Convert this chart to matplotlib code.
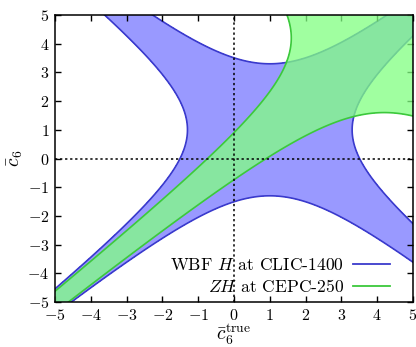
import matplotlib
matplotlib.use('Agg')
import matplotlib.pyplot as plt
import numpy as np

# Allowed regions: |(cbar - c)(cbar + c - s0)| < k
# s0 = crossing of the two zero lines, k = (half gap)^2
labels = ['WBF $H$ at CLIC-1400', '$ZH$ at CEPC-250']
cross_sum = [2.0, 8.4]
half_gap = [2.3, 2.6]
fill_colors = ['#9999ff', '#82ff82']
fill_alpha = [1.0, 0.76]
edge_colors = ['#3a3acc', '#3cc83c']
ticks = [-5, -4, -3, -2, -1, 0, 1, 2, 3, 4, 5]

plt.rcParams['font.family'] = 'serif'
plt.rcParams['font.serif'] = ['cmr10']
plt.rcParams['mathtext.fontset'] = 'cm'
plt.rcParams['axes.formatter.use_mathtext'] = True
plt.rcParams['font.size'] = 11.5

fig = plt.figure(figsize=(4.16, 3.47), dpi=100)
ax = fig.add_axes([55 / 416, 45 / 347, 358 / 416, 287 / 347])

grid = np.linspace(-5.5, 5.5, 901)
C, CB = np.meshgrid(grid, grid)

handles = []
for i in range(2):
    g = (CB - C) * (CB + C - cross_sum[i]) / half_gap[i] ** 2
    ax.contourf(C, CB, g, levels=[-1, 1], colors=[fill_colors[i]],
                alpha=fill_alpha[i], zorder=1 + i)
    ax.contour(C, CB, g, levels=[-1, 1], colors=[edge_colors[i]],
               linewidths=1.2, linestyles='solid', zorder=1.5 + i)
    h, = ax.plot([], [], color=edge_colors[i], lw=1.3, label=labels[i])
    handles.append(h)

ax.axvline(0, color='black', ls=(0, (1.5, 1.8)), lw=1.1, zorder=5)
ax.axhline(0, color='black', ls=(0, (1.5, 1.8)), lw=1.1, zorder=5)

ax.set_xlim(-5, 5)
ax.set_ylim(-5, 5)
ax.set_xticks(ticks)
ax.set_yticks(ticks)
ax.tick_params(direction='in', top=True, right=True, length=4,
               width=1.0, pad=4, labelsize=11.5)
for spine in ax.spines.values():
    spine.set_linewidth(1.1)

ax.set_xlabel(r'$\bar{c}_6^{\rm true}$', fontsize=14, labelpad=-1)
ax.set_ylabel(r'$\bar{c}_6$', fontsize=14, labelpad=2)

ax.legend(handles=handles, loc='lower right', frameon=False,
          markerfirst=False, bbox_to_anchor=(0.936, 0.025),
          borderaxespad=0, borderpad=0, handlelength=2.1,
          handletextpad=0.55, labelspacing=0.25, fontsize=12.6)

fig.savefig('out.png', dpi=100)
